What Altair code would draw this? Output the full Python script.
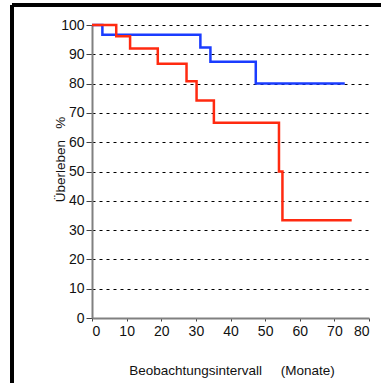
import altair as alt
import pandas as pd

blue_x = [0, 3, 31.3, 34.2, 47.3, 73]
blue_y = [100, 96.7, 92.3, 87.5, 80.0, 80.0]
red_x = [0, 7, 11, 19, 27.3, 30.2, 35.2, 54, 55, 75]
red_y = [100, 96.2, 92.0, 86.8, 80.8, 74.2, 66.6, 50.0, 33.4, 33.4]

NB = "\u00a0"
x_title = "Beobachtungsintervall" + NB * 5 + "(Monate)"
y_title = "Überleben" + NB * 3 + "%"

df = pd.DataFrame(
    [{"t": x, "s": y, "g": "A"} for x, y in zip(blue_x, blue_y)]
    + [{"t": x, "s": y, "g": "B"} for x, y in zip(red_x, red_y)]
)

W, H = 277, 293
LEFT, TOP = 92, 25
FONT = "Liberation Sans"

x = alt.X("t:Q", scale=alt.Scale(domain=[0, 80], nice=False),
          axis=alt.Axis(values=list(range(0, 81, 10)), title=x_title,
                        grid=False, domainColor="#808080", domainWidth=2, tickColor="#404040",
                        tickSize=3, labelPadding=3, labelFontSize=14, labelColor="#111",
                        titleFontSize=13.5, titleFontWeight="normal", titleColor="#111",
                        titleX=W / 2 + 1, titleY=52, titleBaseline="middle",
                        labelFont=FONT, titleFont=FONT))
y = alt.Y("s:Q", scale=alt.Scale(domain=[0, 100], nice=False),
          axis=alt.Axis(values=list(range(0, 101, 10)), title=y_title,
                        grid=True, gridColor="#000000", gridDash=[3, 4], gridWidth=1,
                        domainColor="#808080", domainWidth=2, tickColor="#404040",
                        tickSize=6, labelPadding=2, labelFontSize=14, labelColor="#111",
                        titleFontSize=13.5, titleFontWeight="normal", titleColor="#111",
                        titleX=-32, titleY=134, titleBaseline="middle", titleAngle=-90,
                        labelFont=FONT, titleFont=FONT))

lines = alt.Chart(df).mark_line(interpolate="step-after", strokeWidth=2.5).encode(
    x=x, y=y,
    color=alt.Color("g:N", scale=alt.Scale(domain=["A", "B"], range=["#1a3cff", "#ff2a10"]), legend=None),
    order=alt.Order("t:Q"),
)

frame_left = alt.Chart(df).mark_rule(color="black", strokeWidth=2.5).encode(
    x=alt.value(12 - LEFT), y=alt.value(5 - TOP), y2=alt.value(383 - TOP))
frame_top = alt.Chart(df).mark_rule(color="black", strokeWidth=2.5).encode(
    x=alt.value(12 - LEFT), x2=alt.value(381 - LEFT), y=alt.value(5 - TOP))

chart = alt.layer(lines, frame_left, frame_top).properties(
    width=W, height=H,
    autosize=alt.AutoSizeParams(type="none"),
    padding={"left": LEFT, "top": TOP, "right": 381 - LEFT - W, "bottom": 383 - TOP - H},
    background="white",
).configure_view(stroke=None)

chart.save("out.html", embed_options={"renderer": "svg", "actions": False})
